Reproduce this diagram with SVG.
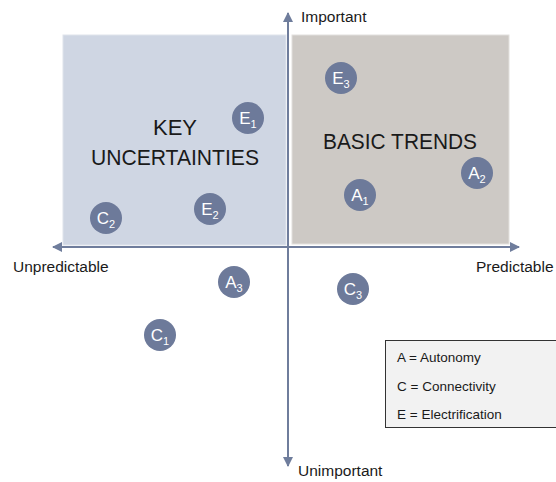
<svg xmlns="http://www.w3.org/2000/svg" width="556" height="482" viewBox="0 0 556 482">
<defs>
<marker id="arr" viewBox="0 0 10 10" refX="9" refY="5" markerWidth="5" markerHeight="5" orient="auto-start-reverse" markerUnits="strokeWidth">
<path d="M0,0 L10,5 L0,10 z" fill="#6f7d9c"/>
</marker>
<style>
.lbl{font-family:"Liberation Sans",Arial,sans-serif;fill:#1a1a1a}
.quad{font-size:22px}
.ax{font-size:15.5px}
.leg{font-size:13.5px}
.dot circle{fill:#6d7a9a}
.dot text{font-family:"Liberation Sans",Arial,sans-serif;fill:#ffffff;font-size:17px}
.sub{font-size:11px}
.axis{stroke:#6f7d9c;stroke-width:2;fill:none}
</style>
</defs>
<rect width="556" height="482" fill="#ffffff"/>
<g id="key-uncertainties">
<rect x="63" y="35" width="223" height="210" fill="#cfd6e3" stroke="#dfe4ec" stroke-width="1"/>
<text class="lbl quad" x="175" y="135" text-anchor="middle">KEY</text>
<text class="lbl quad" x="175" y="165" text-anchor="middle" textLength="168" lengthAdjust="spacingAndGlyphs">UNCERTAINTIES</text>
</g>
<g id="basic-trends">
<rect x="292" y="35" width="217" height="209" fill="#cdc9c5" stroke="#e2e0dd" stroke-width="1"/>
<text class="lbl quad" x="400" y="149" text-anchor="middle" textLength="154" lengthAdjust="spacingAndGlyphs">BASIC TRENDS</text>
</g>
<g id="axes">
<line class="axis" x1="288" y1="466" x2="288" y2="13" marker-end="url(#arr)" marker-start="url(#arr)"/>
<line class="axis" x1="53" y1="247" x2="519" y2="247" marker-end="url(#arr)" marker-start="url(#arr)"/>
</g>
<g id="axis-labels">
<text class="lbl ax" x="301" y="22">Important</text>
<text class="lbl ax" x="298" y="476">Unimportant</text>
<text class="lbl ax" x="13" y="272">Unpredictable</text>
<text class="lbl ax" x="476" y="272">Predictable</text>
</g>
<g id="E1" class="dot"><circle cx="248" cy="118" r="16"/><text x="248" y="124" text-anchor="middle">E<tspan class="sub" dy="4">1</tspan></text></g>
<g id="E2" class="dot"><circle cx="210" cy="209" r="16"/><text x="210" y="215" text-anchor="middle">E<tspan class="sub" dy="4">2</tspan></text></g>
<g id="C2" class="dot"><circle cx="106" cy="218" r="16"/><text x="106" y="224" text-anchor="middle">C<tspan class="sub" dy="4">2</tspan></text></g>
<g id="E3" class="dot"><circle cx="341" cy="78" r="16"/><text x="341" y="84" text-anchor="middle">E<tspan class="sub" dy="4">3</tspan></text></g>
<g id="A1" class="dot"><circle cx="360" cy="195" r="16"/><text x="360" y="201" text-anchor="middle">A<tspan class="sub" dy="4">1</tspan></text></g>
<g id="A2" class="dot"><circle cx="477" cy="173" r="16"/><text x="477" y="179" text-anchor="middle">A<tspan class="sub" dy="4">2</tspan></text></g>
<g id="A3" class="dot"><circle cx="234" cy="282" r="16"/><text x="234" y="288" text-anchor="middle">A<tspan class="sub" dy="4">3</tspan></text></g>
<g id="C1" class="dot"><circle cx="160" cy="335" r="16"/><text x="160" y="341" text-anchor="middle">C<tspan class="sub" dy="4">1</tspan></text></g>
<g id="C3" class="dot"><circle cx="353" cy="289" r="16"/><text x="353" y="295" text-anchor="middle">C<tspan class="sub" dy="4">3</tspan></text></g>
<g id="legend">
<rect x="385.5" y="340.5" width="180" height="87" fill="#f2f2f2" stroke="#333333" stroke-width="1"/>
<text class="lbl leg" x="397" y="362">A = Autonomy</text>
<text class="lbl leg" x="397" y="391">C = Connectivity</text>
<text class="lbl leg" x="397" y="419">E = Electrification</text>
</g>
</svg>
